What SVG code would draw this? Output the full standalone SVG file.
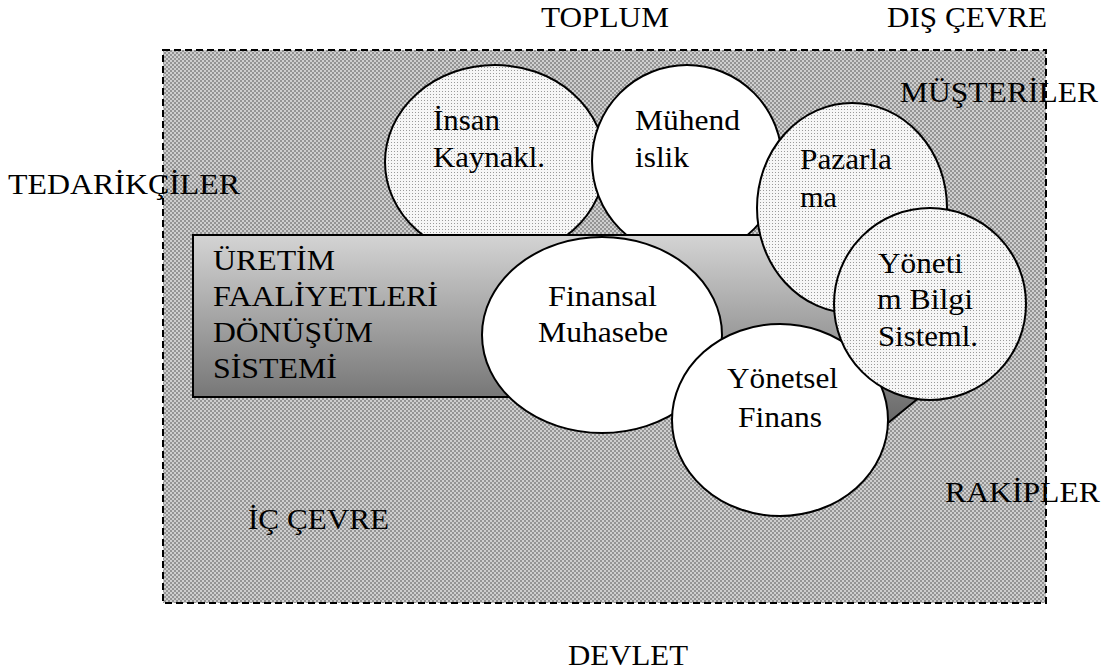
<svg xmlns="http://www.w3.org/2000/svg" width="1111" height="672" viewBox="0 0 1111 672">
  <defs>
    <!-- coarse dot screen used for the environment field -->
    <pattern id="dotsDark" width="4" height="4" patternUnits="userSpaceOnUse">
      <rect width="4" height="4" fill="#cfcfcf"/>
      <circle cx="1" cy="1" r="0.75" fill="#3c3c3c"/>
      <circle cx="3" cy="3" r="0.75" fill="#3c3c3c"/>
    </pattern>
    <!-- fine light screen used for the shaded departments -->
    <pattern id="dotsLight" width="3" height="3" patternUnits="userSpaceOnUse">
      <rect width="3" height="3" fill="#f6f6f6"/>
      <rect x="1" y="1" width="1" height="1" fill="#9a9a9a"/>
    </pattern>
    <linearGradient id="boxShade" gradientUnits="userSpaceOnUse" x1="0" y1="235" x2="0" y2="430">
      <stop offset="0" stop-color="#d4d4d4"/>
      <stop offset="1" stop-color="#646464"/>
    </linearGradient>
    <style>
      text { font-family: 'Liberation Serif', 'Times New Roman', serif; font-size: 30px; fill: #000; }
      .dept { stroke: #000; stroke-width: 2; }
      .light { fill: url(#dotsLight); }
      .plain { fill: #fff; }
    </style>
  </defs>

  <!-- internal environment field -->
  <g id="ic-cevre">
    <rect x="163" y="50" width="883" height="553" fill="url(#dotsDark)" stroke="#000" stroke-width="2" stroke-dasharray="7 4"/>
    <text x="248" y="529" textLength="141" lengthAdjust="spacingAndGlyphs">İÇ ÇEVRE</text>
  </g>

  <!-- outer environment labels -->
  <g id="dis-cevre">
    <text x="541" y="27" textLength="128" lengthAdjust="spacingAndGlyphs">TOPLUM</text>
    <text x="887" y="27" textLength="160" lengthAdjust="spacingAndGlyphs">DIŞ ÇEVRE</text>
    <text x="8" y="194" textLength="232" lengthAdjust="spacingAndGlyphs">TEDARİKÇİLER</text>
    <text x="568" y="665" textLength="120" lengthAdjust="spacingAndGlyphs">DEVLET</text>
  </g>

  <g id="musteriler">
    <text x="900" y="102" textLength="198" lengthAdjust="spacingAndGlyphs">MÜŞTERİLER</text>
  </g>
  <g id="rakipler">
    <text x="945" y="502" textLength="155" lengthAdjust="spacingAndGlyphs">RAKİPLER</text>
  </g>

  <g id="insan-kaynaklari">
    <ellipse class="dept light" cx="495" cy="162" rx="110" ry="97"/>
    <text x="433" y="130" textLength="67" lengthAdjust="spacingAndGlyphs">İnsan</text>
    <text x="433" y="167" textLength="112" lengthAdjust="spacingAndGlyphs">Kaynakl.</text>
  </g>

  <g id="muhendislik">
    <ellipse class="dept plain" cx="687" cy="161" rx="95" ry="96"/>
    <text x="635" y="130" textLength="105" lengthAdjust="spacingAndGlyphs">Mühend</text>
    <text x="635" y="167" textLength="54" lengthAdjust="spacingAndGlyphs">islik</text>
  </g>

  <!-- production / transformation system block arrow -->
  <g id="uretim">
    <polygon points="193,235 818,235 818,165 1012,322 818,480 818,397 193,397" fill="url(#boxShade)" stroke="#000" stroke-width="2"/>
    <text x="213" y="270" textLength="122" lengthAdjust="spacingAndGlyphs">ÜRETİM</text>
    <text x="213" y="306" textLength="225" lengthAdjust="spacingAndGlyphs">FAALİYETLERİ</text>
    <text x="213" y="342" textLength="160" lengthAdjust="spacingAndGlyphs">DÖNÜŞÜM</text>
    <text x="213" y="378" textLength="124" lengthAdjust="spacingAndGlyphs">SİSTEMİ</text>
  </g>

  <g id="pazarlama">
    <ellipse class="dept light" cx="852" cy="208" rx="95" ry="105"/>
    <text x="800" y="169" textLength="92" lengthAdjust="spacingAndGlyphs">Pazarla</text>
    <text x="800" y="207" textLength="37" lengthAdjust="spacingAndGlyphs">ma</text>
  </g>

  <g id="finansal-muhasebe">
    <ellipse class="dept plain" cx="602" cy="335" rx="120" ry="98"/>
    <text x="548" y="306" textLength="109" lengthAdjust="spacingAndGlyphs">Finansal</text>
    <text x="538" y="342" textLength="130" lengthAdjust="spacingAndGlyphs">Muhasebe</text>
  </g>

  <g id="yonetsel-finans">
    <ellipse class="dept plain" cx="780" cy="420" rx="108" ry="96"/>
    <text x="727" y="388" textLength="111" lengthAdjust="spacingAndGlyphs">Yönetsel</text>
    <text x="738" y="427" textLength="84" lengthAdjust="spacingAndGlyphs">Finans</text>
  </g>

  <g id="yonetim-bilgi-sistemleri">
    <ellipse class="dept light" cx="930" cy="304" rx="96" ry="96"/>
    <text x="878" y="273" textLength="85" lengthAdjust="spacingAndGlyphs">Yöneti</text>
    <text x="877" y="309" textLength="96" lengthAdjust="spacingAndGlyphs">m Bilgi</text>
    <text x="878" y="346" textLength="100" lengthAdjust="spacingAndGlyphs">Sisteml.</text>
  </g>
</svg>
